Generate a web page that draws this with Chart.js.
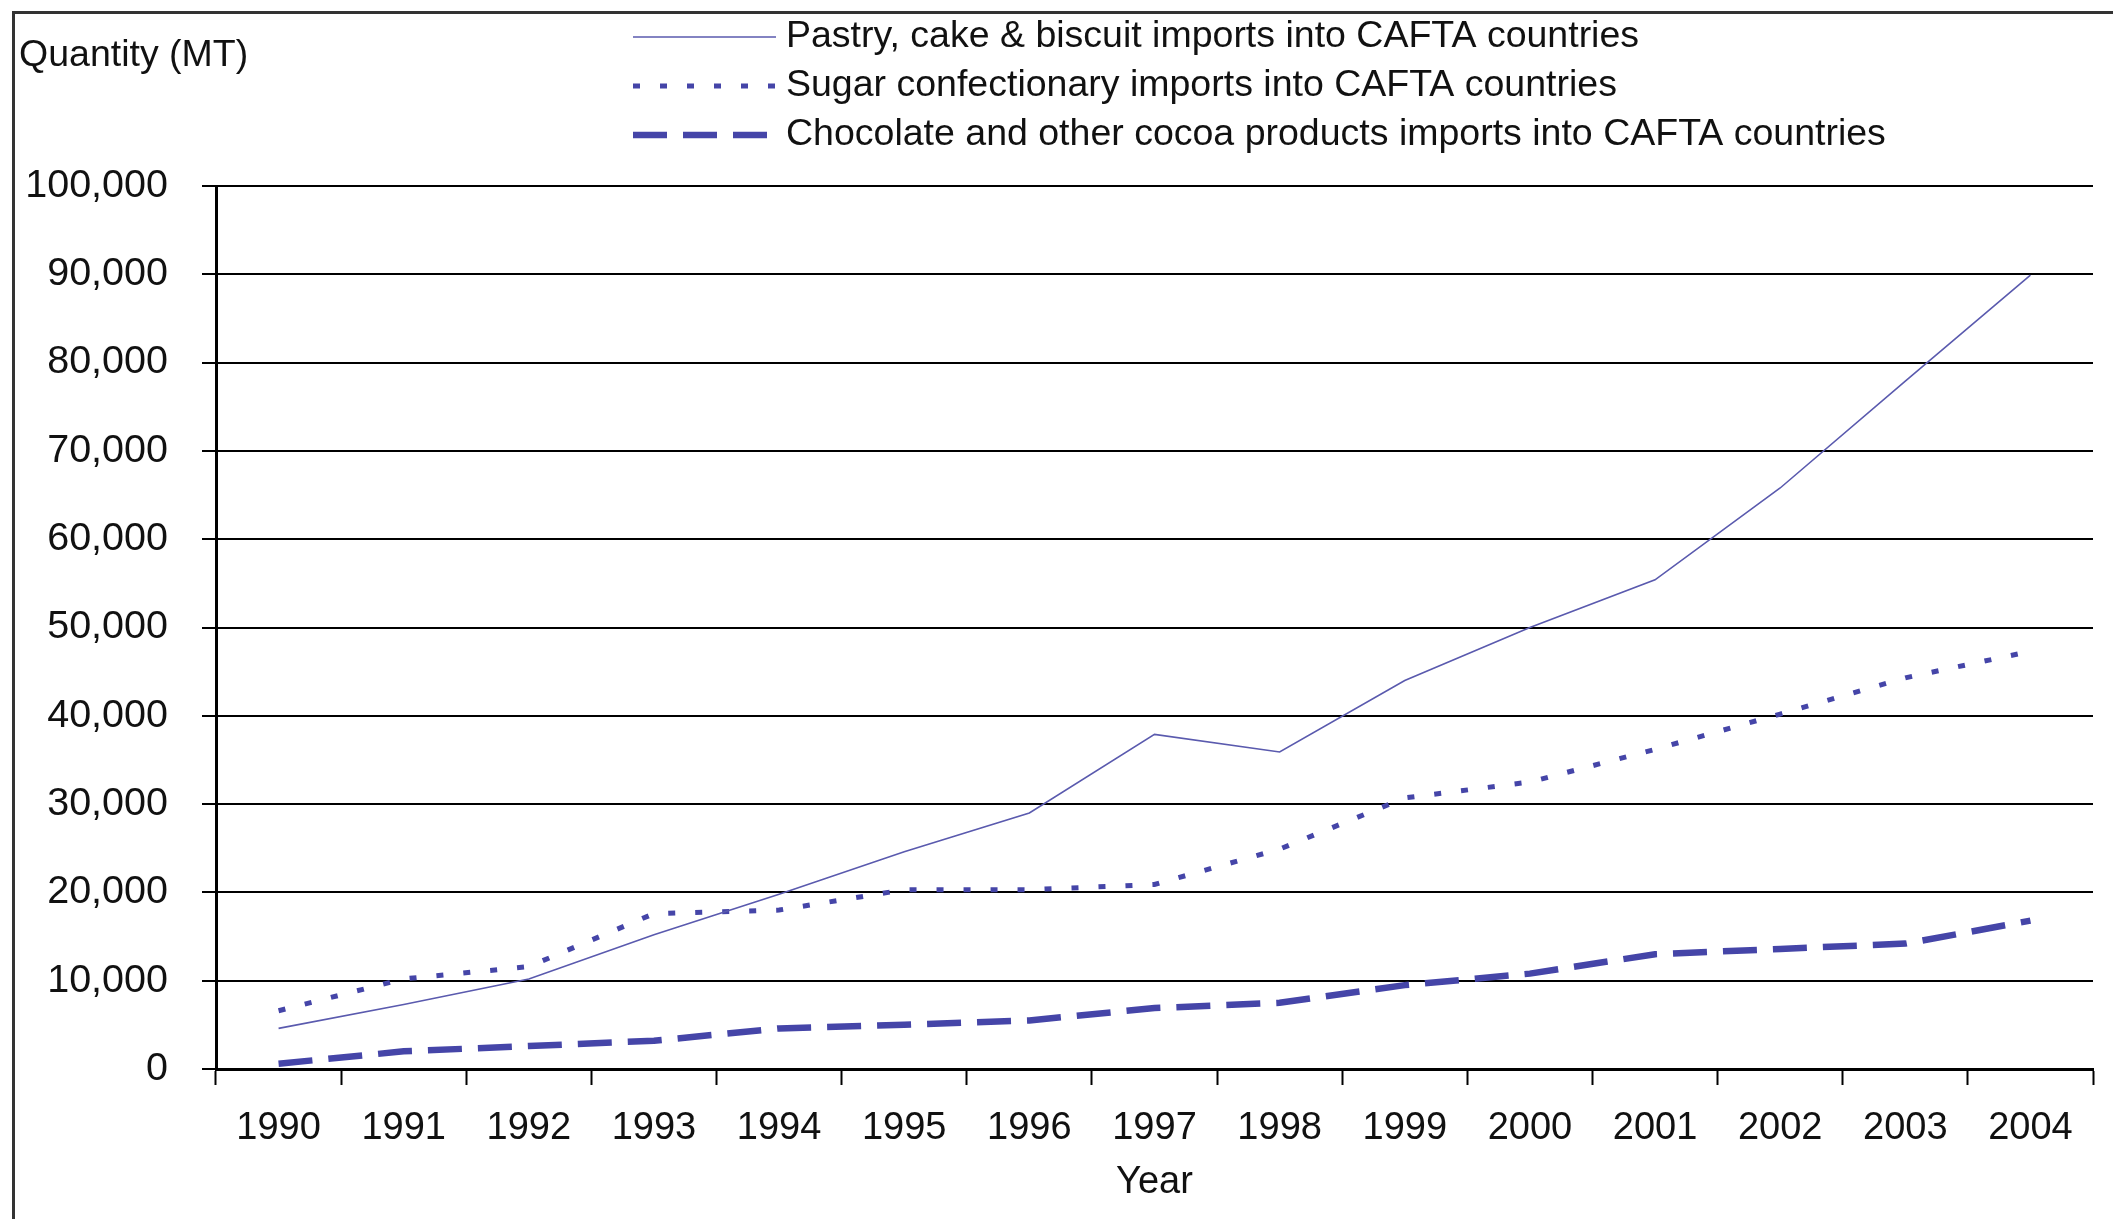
<!DOCTYPE html>
<html><head><meta charset="utf-8">
<script src="https://cdn.jsdelivr.net/npm/chart.js@4.4.1/dist/chart.umd.min.js"></script>
<style>
html,body{margin:0;padding:0;background:#fff;overflow:hidden}
#wrap{position:relative;width:2113px;height:1219px;background:#fff}
#frame{position:absolute;left:12px;top:11px;right:-10px;bottom:-10px;border-left:3px solid #333;border-top:3px solid #333}
canvas{position:absolute;left:0;top:0}
</style></head><body>
<div id="wrap"><div id="frame"></div><canvas id="c" width="2113" height="1219"></canvas></div>
<script>
const years = ['1990','1991','1992','1993','1994','1995','1996','1997','1998','1999','2000','2001','2002','2003','2004'];
const pastry    = [4600, 7300, 10200, 15200, 19800, 24600, 29000, 37900, 35900, 44000, 50000, 55400, 65800, 77900, 89900];
const sugar     = [6600, 10200, 11600, 17600, 18000, 20300, 20300, 20900, 24900, 30700, 32500, 36200, 40200, 44300, 47300];
const chocolate = [600, 2000, 2600, 3200, 4600, 5000, 5500, 6900, 7500, 9500, 10800, 13000, 13600, 14200, 16800];
const seriesLabels = [
  'Pastry, cake & biscuit imports into CAFTA countries',
  'Sugar confectionary imports into CAFTA countries',
  'Chocolate and other cocoa products imports into CAFTA countries'
];
const yTickValues = [0,10000,20000,30000,40000,50000,60000,70000,80000,90000,100000];
const yTickLabels = ['0','10,000','20,000','30,000','40,000','50,000','60,000','70,000','80,000','90,000','100,000'];
const yTitle = 'Quantity (MT)';
const xTitle = 'Year';

const FAMILY = "'Liberation Sans', Arial, Helvetica, sans-serif";
const FONT = {family: FAMILY, size: 38};
const YFONT = {family: FAMILY, size: 39.5};
const TXT = '#111';

const legendPlugin = {
  id: 'customLegend',
  afterDraw(chart) {
    const ctx = chart.ctx;
    ctx.save();
    ctx.font = '37.5px ' + FAMILY;
    ctx.fillStyle = TXT;
    ctx.textBaseline = 'middle';
    ctx.textAlign = 'left';
    ctx.fillText(yTitle, 19, 56);
    chart.data.datasets.forEach((ds, i) => {
      const y = 37 + i * 49;
      ctx.strokeStyle = ds.borderColor;
      ctx.lineWidth = ds.legendWidth || ds.borderWidth;
      ctx.setLineDash(ds.borderDash || []);
      ctx.beginPath(); ctx.moveTo(633, y); ctx.lineTo(776, y); ctx.stroke();
      ctx.setLineDash([]);
      ctx.fillText(ds.label, 786, y);
    });
    ctx.restore();
  }
};

new Chart(document.getElementById('c'), {
  type: 'line',
  data: {
    labels: years,
    datasets: [
      {label: seriesLabels[0], data: pastry, borderColor: '#5a5aae', borderWidth: 1.6, pointRadius: 0, tension: 0, fill: false},
      {label: seriesLabels[1], data: sugar, borderColor: '#4545a8', borderWidth: 5, borderDash: [7, 20], pointRadius: 0, tension: 0, fill: false},
      {label: seriesLabels[2], data: chocolate, borderColor: '#4545a8', borderWidth: 6.5, borderDash: [34, 16], pointRadius: 0, tension: 0, fill: false}
    ]
  },
  options: {
    responsive: false,
    animation: false,
    devicePixelRatio: 1,
    layout: {padding: {left: 0, top: 186, right: 20, bottom: 0}},
    plugins: {legend: {display: false}, tooltip: {enabled: false}},
    scales: {
      x: {
        type: 'category',
        offset: true,
        grid: {offset: true, drawOnChartArea: false, drawTicks: true, tickLength: 16, tickColor: '#000', tickWidth: 2},
        border: {display: true, color: '#000', width: 3},
        ticks: {color: TXT, font: FONT, padding: 21, maxRotation: 0, autoSkip: false},
        title: {display: true, text: xTitle, color: TXT, font: FONT, padding: {top: 0, bottom: 14}},
        afterFit(s) { s.height = 150; }
      },
      y: {
        min: 0, max: 100000,
        afterBuildTicks(s) { s.ticks = yTickValues.map(v => ({value: v})); },
        ticks: {color: TXT, font: YFONT, padding: 34, callback: (v) => yTickLabels[yTickValues.indexOf(v)]},
        grid: {color: '#000', lineWidth: 2, drawTicks: true, tickLength: 14, tickColor: '#000'},
        border: {display: true, color: '#000', width: 3},
        afterFit(s) { s.width = 216; }
      }
    }
  },
  plugins: [legendPlugin]
});
</script>
</body></html>
